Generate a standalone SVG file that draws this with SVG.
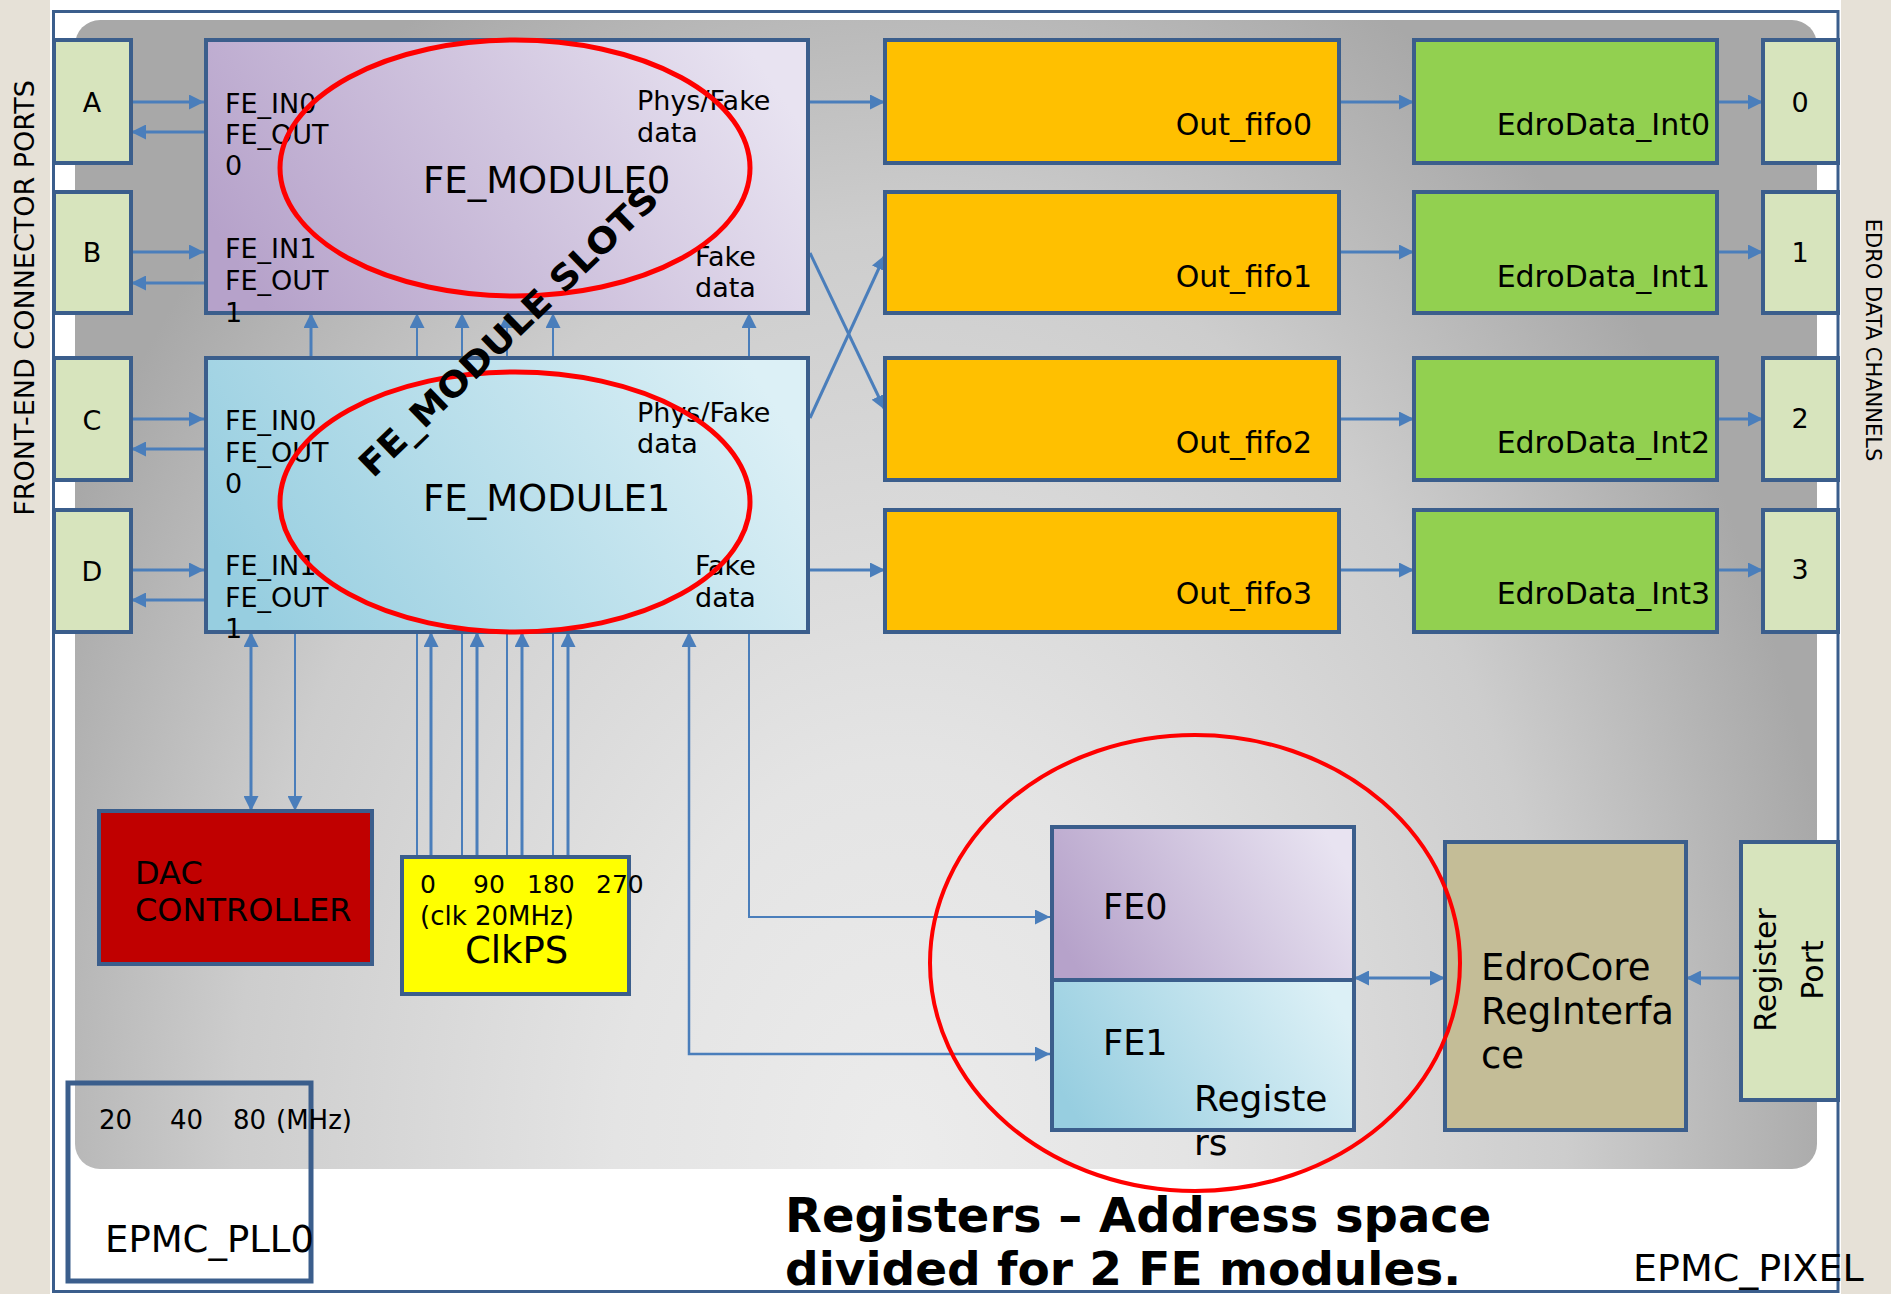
<svg xmlns="http://www.w3.org/2000/svg" width="1891" height="1294" viewBox="0 0 1891 1294">
<defs>
<style>
text{font-family:"DejaVu Sans","Liberation Sans",sans-serif;fill:#000}
.box{stroke:#3b5e8c;stroke-width:4}
.port{fill:#d7e4bd}
.fifo{fill:#ffc000}
.edro{fill:#92d050}
.lbl{font-size:27px}
.big{font-size:37px}
.fifot{font-size:30px;text-anchor:end}
.pt{font-size:27px;text-anchor:middle}
.ar{fill:none;stroke:#4a7ebb;stroke-width:3;marker-end:url(#ah)}
.ar2{fill:none;stroke:#4a7ebb;stroke-width:3;marker-end:url(#ah);marker-start:url(#ah)}
.ring{fill:none;stroke:#ff0000}
</style>
<marker id="ah" viewBox="0 0 10 10" refX="10" refY="5" markerWidth="15" markerHeight="15" markerUnits="userSpaceOnUse" orient="auto-start-reverse"><path d="M0,0 L10,5 L0,10 z" fill="#4a7ebb"/></marker>
<linearGradient id="gp" x1="0" y1="0.65" x2="1" y2="0.35"><stop offset="0" stop-color="#b6a2ca"/><stop offset="1" stop-color="#e8e3f1"/></linearGradient>
<linearGradient id="gb" x1="0" y1="0.65" x2="1" y2="0.35"><stop offset="0" stop-color="#97cee0"/><stop offset="1" stop-color="#dcf0f6"/></linearGradient>
<radialGradient id="bg" gradientUnits="userSpaceOnUse" cx="900" cy="1160" r="950" gradientTransform="translate(0,1160) scale(1,1.4) translate(0,-1160)"><stop offset="0" stop-color="#ececec"/><stop offset="0.3" stop-color="#e4e4e4"/><stop offset="0.7" stop-color="#cdcdcd"/><stop offset="1" stop-color="#a8a8a8"/></radialGradient>
</defs>

<rect x="0" y="0" width="1891" height="1294" fill="#e6e1d7"/>
<rect x="50" y="-20" width="1791" height="1330" rx="14" fill="#ffffff"/>
<rect x="53.5" y="11.5" width="1784.5" height="1280" fill="none" stroke="#3b5e8c" stroke-width="3"/>
<rect x="75" y="20" width="1742" height="1149" rx="25" fill="url(#bg)"/>

<text x="0" y="0" font-size="27" text-anchor="middle" transform="translate(34,298) rotate(-90)">FRONT-END CONNECTOR PORTS</text>
<text x="0" y="0" font-size="21" text-anchor="middle" transform="translate(1866,340) rotate(90)">EDRO DATA CHANNELS</text>

<g id="connectors">
<path class="ar" d="M131,102 H204"/>
<path class="ar" d="M204,132 H131"/>
<path class="ar" d="M131,252 H204"/>
<path class="ar" d="M204,283 H131"/>
<path class="ar" d="M131,419 H204"/>
<path class="ar" d="M204,449 H131"/>
<path class="ar" d="M131,570 H204"/>
<path class="ar" d="M204,600 H131"/>
<path class="ar" d="M810,102 H885"/>
<path class="ar" d="M810,570 H885"/>
<path class="ar" d="M810,253 L885,410"/>
<path class="ar" d="M810,418 L885,255"/>
<path class="ar" d="M1339,102 H1414"/>
<path class="ar" d="M1339,252 H1414"/>
<path class="ar" d="M1339,419 H1414"/>
<path class="ar" d="M1339,570 H1414"/>
<path class="ar" d="M1717,102 H1763"/>
<path class="ar" d="M1717,252 H1763"/>
<path class="ar" d="M1717,419 H1763"/>
<path class="ar" d="M1717,570 H1763"/>
<path class="ar" d="M311,358 V313"/>
<path class="ar" d="M417,857 V313" style="stroke-width:2"/>
<path class="ar" d="M462,857 V313" style="stroke-width:2"/>
<path class="ar" d="M507,857 V313" style="stroke-width:2"/>
<path class="ar" d="M553,857 V313" style="stroke-width:2"/>
<path class="ar" d="M431,857 V632"/>
<path class="ar" d="M477,857 V632"/>
<path class="ar" d="M522,857 V632"/>
<path class="ar" d="M568,857 V632"/>
<path class="ar2" d="M251,632 V811"/>
<path class="ar" d="M295,632 V811" style="stroke-width:2"/>
<path class="ar2" d="M749,313 V917 H1050" style="stroke-width:2"/>
<path class="ar2" d="M689,632 V1054 H1050" style="stroke-width:2.5"/>
<path class="ar2" d="M1354,978 H1445"/>
<path class="ar" d="M1741,978 H1686"/>
</g>

<g id="port-A"><rect class="box port" x="54" y="40" width="77" height="123"/><text class="pt" x="92" y="112">A</text></g>
<g id="port-B"><rect class="box port" x="54" y="192" width="77" height="121"/><text class="pt" x="92" y="262">B</text></g>
<g id="port-C"><rect class="box port" x="54" y="358" width="77" height="122"/><text class="pt" x="92" y="430">C</text></g>
<g id="port-D"><rect class="box port" x="54" y="510" width="77" height="122"/><text class="pt" x="92" y="581">D</text></g>

<g id="fe-module0">
<rect class="box" x="206" y="40" width="602" height="273" fill="url(#gp)"/>
<text class="lbl" x="225" y="113">FE_IN0</text>
<text class="lbl" x="225" y="144">FE_OUT</text>
<text class="lbl" x="225" y="175">0</text>
<text class="lbl" x="637" y="110">Phys/Fake</text>
<text class="lbl" x="637" y="142">data</text>
<text class="lbl" x="225" y="258">FE_IN1</text>
<text class="lbl" x="225" y="290">FE_OUT</text>
<text class="lbl" x="225" y="322">1</text>
<text class="lbl" x="695" y="266">Fake</text>
<text class="lbl" x="695" y="297">data</text>
<text class="big" x="423" y="193">FE_MODULE0</text>
</g>

<g id="fe-module1">
<rect class="box" x="206" y="358" width="602" height="274" fill="url(#gb)"/>
<text class="lbl" x="225" y="430">FE_IN0</text>
<text class="lbl" x="225" y="462">FE_OUT</text>
<text class="lbl" x="225" y="493">0</text>
<text class="lbl" x="637" y="422">Phys/Fake</text>
<text class="lbl" x="637" y="453">data</text>
<text class="lbl" x="225" y="575">FE_IN1</text>
<text class="lbl" x="225" y="607">FE_OUT</text>
<text class="lbl" x="225" y="638">1</text>
<text class="lbl" x="695" y="575">Fake</text>
<text class="lbl" x="695" y="607">data</text>
<text class="big" x="423" y="511">FE_MODULE1</text>
</g>

<g id="out-fifo0"><rect class="box fifo" x="885" y="40" width="454" height="123"/><text class="fifot" x="1312" y="135">Out_fifo0</text></g>
<g id="out-fifo1"><rect class="box fifo" x="885" y="192" width="454" height="121"/><text class="fifot" x="1312" y="287">Out_fifo1</text></g>
<g id="out-fifo2"><rect class="box fifo" x="885" y="358" width="454" height="122"/><text class="fifot" x="1312" y="453">Out_fifo2</text></g>
<g id="out-fifo3"><rect class="box fifo" x="885" y="510" width="454" height="122"/><text class="fifot" x="1312" y="604">Out_fifo3</text></g>

<g id="edrodata-int0"><rect class="box edro" x="1414" y="40" width="303" height="123"/><text class="fifot" x="1710" y="135">EdroData_Int0</text></g>
<g id="edrodata-int1"><rect class="box edro" x="1414" y="192" width="303" height="121"/><text class="fifot" x="1710" y="287">EdroData_Int1</text></g>
<g id="edrodata-int2"><rect class="box edro" x="1414" y="358" width="303" height="122"/><text class="fifot" x="1710" y="453">EdroData_Int2</text></g>
<g id="edrodata-int3"><rect class="box edro" x="1414" y="510" width="303" height="122"/><text class="fifot" x="1710" y="604">EdroData_Int3</text></g>

<g id="channel-0"><rect class="box port" x="1763" y="40" width="75" height="123"/><text class="pt" x="1800" y="112" font-size="25">0</text></g>
<g id="channel-1"><rect class="box port" x="1763" y="192" width="75" height="121"/><text class="pt" x="1800" y="262" font-size="25">1</text></g>
<g id="channel-2"><rect class="box port" x="1763" y="358" width="75" height="122"/><text class="pt" x="1800" y="428" font-size="25">2</text></g>
<g id="channel-3"><rect class="box port" x="1763" y="510" width="75" height="122"/><text class="pt" x="1800" y="579" font-size="25">3</text></g>

<g id="dac-controller">
<rect class="box" x="99" y="811" width="273" height="153" fill="#c00000"/>
<text x="135" y="884" font-size="32">DAC</text>
<text x="135" y="921" font-size="32">CONTROLLER</text>
</g>

<g id="clkps">
<rect class="box" x="402" y="857" width="227" height="137" fill="#ffff00"/>
<text x="420" y="893" font-size="25">0</text>
<text x="473" y="893" font-size="25">90</text>
<text x="527" y="893" font-size="25">180</text>
<text x="596" y="893" font-size="25">270</text>
<text x="420" y="925" font-size="26">(clk 20MHz)</text>
<text x="465" y="963" font-size="37">ClkPS</text>
</g>

<g id="epmc-pll0">
<rect x="68" y="1083" width="243" height="198" fill="none" stroke="#3b5e8c" stroke-width="5"/>
<text x="99" y="1129" font-size="26">20</text>
<text x="170" y="1129" font-size="26">40</text>
<text x="233" y="1129" font-size="26">80</text>
<text x="276" y="1129" font-size="26">(MHz)</text>
<text x="105" y="1252" font-size="37">EPMC_PLL0</text>
</g>

<g id="registers">
<rect class="box" x="1052" y="827" width="302" height="153" fill="url(#gp)"/>
<rect class="box" x="1052" y="980" width="302" height="150" fill="url(#gb)"/>
<text x="1103" y="919" font-size="35">FE0</text>
<text x="1103" y="1055" font-size="35">FE1</text>
<text x="1194" y="1111" font-size="36">Registe</text>
<text x="1194" y="1155" font-size="36">rs</text>
</g>

<g id="edrocore-reginterface">
<rect class="box" x="1445" y="842" width="241" height="288" fill="#c4bd97"/>
<text x="1481" y="980" font-size="37">EdroCore</text>
<text x="1481" y="1024" font-size="37">RegInterfa</text>
<text x="1481" y="1068" font-size="37">ce</text>
</g>

<g id="register-port">
<rect class="box port" x="1741" y="842" width="97" height="258"/>
<text x="0" y="0" font-size="30" text-anchor="middle" transform="translate(1776,970) rotate(-90)">Register</text>
<text x="0" y="0" font-size="30" text-anchor="middle" transform="translate(1823,970) rotate(-90)">Port</text>
</g>

<g id="highlights">
<ellipse class="ring" cx="515" cy="168" rx="235" ry="128" stroke-width="5"/>
<ellipse class="ring" cx="515" cy="502" rx="235" ry="130" stroke-width="5"/>
<ellipse class="ring" cx="1195" cy="963" rx="265" ry="228" stroke-width="4"/>
</g>

<text x="373" y="479" font-size="35" font-weight="bold" textLength="400" lengthAdjust="spacingAndGlyphs" transform="rotate(-44 373 479)">FE_MODULE SLOTS</text>

<g id="caption">
<text x="785" y="1232" font-size="48" font-weight="bold">Registers – Address space</text>
<text x="785" y="1285" font-size="47" font-weight="bold">divided for 2 FE modules.</text>
<text x="1633" y="1281" font-size="38">EPMC_PIXEL</text>
</g>
</svg>
